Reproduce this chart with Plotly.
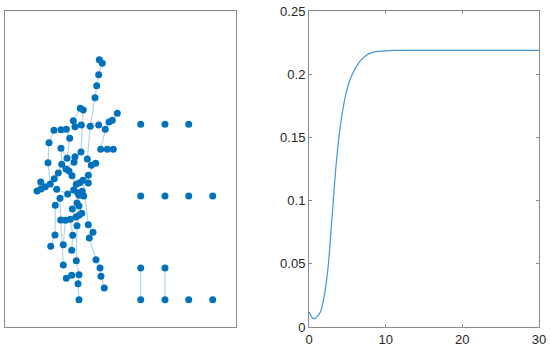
import plotly.graph_objects as go

# graph layout positions (left panel), y measured downward from the top of the box
node_x = [94.3, 97.3, 93.7, 91.7, 90.0, 75.3, 78.3, 112.3, 107.3, 104.0,
          68.3, 70.0, 76.3, 85.3, 93.7, 100.3, 49.0, 56.0, 61.3, 64.7,
          44.0, 56.0, 95.7, 102.3, 108.3, 76.0, 62.0, 70.0, 82.3, 69.0,
          43.0, 90.7, 86.3, 56.7, 61.0, 64.0, 53.3, 67.0, 83.3, 49.3,
          35.7, 45.3, 40.3, 36.0, 32.0, 78.0, 74.7, 71.3, 83.3, 51.7,
          68.7, 62.7, 72.7, 77.3, 78.7, 74.0, 55.0, 72.0, 74.0, 50.3,
          67.3, 76.7, 74.0, 71.0, 55.7, 60.3, 65.3, 72.0, 83.3, 88.0,
          84.3, 50.0, 67.7, 45.7, 58.3, 66.7, 71.3, 91.0, 95.0, 58.3,
          74.0, 66.7, 61.3, 96.0, 73.0, 99.3, 74.0,
          135.7, 160.0, 183.7,
          135.7, 160.0, 183.7, 207.7,
          135.7, 160.0,
          135.7, 160.0, 183.7, 207.7]
node_y = [48.7, 52.3, 63.7, 74.7, 86.7, 97.3, 99.0, 102.3, 109.3, 111.0,
          109.7, 115.7, 114.0, 115.3, 114.0, 118.3, 119.3, 118.7, 118.3, 127.3,
          131.7, 137.3, 138.3, 138.3, 138.3, 141.0, 147.3, 145.7, 148.0, 151.3,
          151.7, 152.3, 154.3, 153.3, 158.0, 160.0, 162.0, 164.7, 164.3, 167.7,
          171.0, 173.0, 175.7, 178.0, 180.0, 169.3, 171.7, 173.3, 172.0, 178.3,
          179.0, 183.0, 181.7, 180.3, 185.0, 184.3, 187.3, 192.0, 195.0, 194.3,
          198.0, 202.3, 204.3, 206.0, 209.0, 209.3, 208.3, 214.7, 213.7, 221.3,
          227.0, 224.0, 224.3, 235.3, 233.7, 239.3, 249.7, 248.7, 257.0, 254.0,
          263.7, 264.3, 267.3, 265.3, 272.7, 277.0, 288.7,
          113.3, 113.3, 113.3,
          185.0, 185.0, 185.0, 185.0,
          257.0, 257.0,
          288.7, 288.7, 288.7, 288.7]

edges = [(0, 1), (1, 2), (2, 3), (3, 4), (4, 13), (5, 6), (6, 25), (7, 8), (8, 9),
         (9, 15), (15, 22), (22, 23), (23, 24), (10, 11), (11, 12), (12, 13), (13, 14),
         (16, 17), (17, 18), (16, 20), (20, 30), (30, 41), (18, 19), (19, 26), (13, 28),
         (28, 32), (32, 31), (21, 33), (26, 27), (27, 29), (29, 34), (34, 35), (35, 37),
         (33, 36), (36, 39), (39, 41), (41, 42), (42, 43), (43, 44), (40, 42), (45, 46),
         (46, 47), (47, 50), (48, 45), (38, 48), (50, 52), (52, 53), (53, 54), (54, 55),
         (55, 57), (57, 58), (49, 51), (51, 56), (56, 59), (56, 64), (58, 61), (61, 62),
         (62, 63), (63, 66), (64, 65), (65, 66), (60, 63), (64, 79), (65, 74), (71, 73),
         (66, 72), (72, 75), (67, 76), (76, 80), (80, 81), (81, 82), (80, 84), (84, 86),
         (68, 69), (69, 70), (70, 77), (77, 78), (78, 83), (83, 85), (25, 27), (37, 47),
         (21, 26), (44, 40), (59, 71), (62, 67), (45, 68), (31, 38), (10, 5),
         (94, 96), (95, 97)]

# curve (right panel)
t = [0, 0.25, 0.5, 0.75, 1, 1.5, 2, 2.5, 3, 3.5, 4, 4.5, 5, 5.5, 6, 6.5, 7, 7.5, 8,
     9, 10, 11, 12, 15, 20, 25, 30]
v = [0.012, 0.009, 0.0068, 0.0068, 0.0078, 0.012, 0.025, 0.048, 0.086, 0.126, 0.155,
     0.175, 0.189, 0.198, 0.204, 0.209, 0.2125, 0.215, 0.2167, 0.218, 0.2185, 0.2188,
     0.2189, 0.2189, 0.2189, 0.2189, 0.2189]

ex, ey = [], []
for a, b in edges:
    ex += [node_x[a], node_x[b], None]
    ey += [node_y[a], node_y[b], None]

fig = go.Figure()

# edges, then nodes (left panel)
fig.add_trace(go.Scatter(x=ex, y=ey, mode='lines', xaxis='x', yaxis='y',
                         line=dict(color='rgba(0,114,189,0.3)', width=1.2),
                         hoverinfo='skip', showlegend=False))
fig.add_trace(go.Scatter(x=node_x, y=node_y, mode='markers', xaxis='x', yaxis='y',
                         marker=dict(color='#0072BD', size=7, line=dict(width=0)),
                         showlegend=False))

# curve (right panel)
fig.add_trace(go.Scatter(x=t, y=v, mode='lines', xaxis='x2', yaxis='y2',
                         line=dict(color='#3f97da', width=1.2, shape='spline', smoothing=0.6),
                         showlegend=False))

box = dict(showline=True, linecolor='#8a8a8a', linewidth=1, mirror=True,
           showgrid=False, zeroline=False, automargin=False)
tickfont = dict(family='Liberation Sans, Arial, sans-serif', size=13, color='#262626')

fig.update_layout(
    width=550, height=349,
    margin=dict(l=0, r=0, t=0, b=0, pad=0, autoexpand=False),
    paper_bgcolor='white', plot_bgcolor='white',
    xaxis=dict(domain=[5 / 550, 236 / 550], range=[0, 231], showticklabels=False,
               ticks='', **box),
    yaxis=dict(domain=[22 / 349, 338 / 349], range=[327 - 11, 0], showticklabels=False,
               ticks='', **box),
    xaxis2=dict(domain=[309 / 550, 539 / 550], range=[0, 30], anchor='y2',
                tickvals=[0, 10, 20, 30], ticks='inside', ticklen=3, tickcolor='#8a8a8a',
                tickfont=tickfont, **box),
    yaxis2=dict(domain=[22 / 349, 338 / 349], range=[0, 0.25], anchor='x2',
                tickvals=[0, 0.05, 0.1, 0.15, 0.2, 0.25],
                ticktext=['0', '0.05', '0.1', '0.15', '0.2', '0.25'],
                ticks='inside', ticklen=3, tickcolor='#8a8a8a', tickfont=tickfont, **box),
)
fig.update_xaxes(mirror='allticks', selector=dict(anchor='y2'))
fig.update_yaxes(mirror='allticks', selector=dict(anchor='x2'))

fig.write_html("out.html", config={'displayModeBar': False},
               post_script="document.body.style.margin='0';"
                           "document.documentElement.style.overflow='hidden';")
